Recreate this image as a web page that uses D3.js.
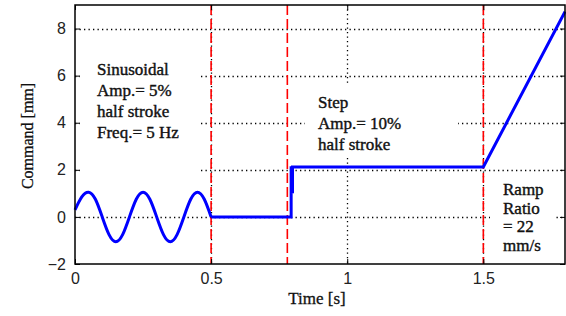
<!DOCTYPE html>
<html><head><meta charset="utf-8">
<script src="https://cdn.jsdelivr.net/npm/d3@7/dist/d3.min.js"></script>
<style>body{margin:0;background:#fff}svg{display:block}</style>
</head><body>
<svg id="c" width="566" height="316"></svg>
<script>
// ---- data ----
const xTicks = [0, 0.5, 1, 1.5];
const yTicks = [-2, 0, 2, 4, 6, 8];
const sineTime = [0, 0.025, 0.05, 0.075, 0.1, 0.125, 0.15, 0.175, 0.2, 0.225, 0.25, 0.275, 0.3, 0.325, 0.35, 0.375, 0.4, 0.425, 0.45, 0.475, 0.5];
const sineCmd  = [0.3, 0.85, 1.05, 0.75, 0, -0.75, -1.05, -0.75, 0, 0.75, 1.05, 0.75, 0, -0.75, -1.05, -0.75, 0, 0.75, 1.05, 0.75, 0];
const stepTime = [0.5, 0.794, 0.794, 0.799, 0.799, 1.5, 1.8];
const stepCmd  = [0, 0, 2.15, 1.0, 2.12, 2.12, 8.72];
const phaseLines = [0.5, 0.78, 1.5];
const xLabel = "Time [s]";
const yLabel = "Command [mm]";
const notes = [
  ["Sinusoidal", "Amp.= 5%", "half stroke", "Freq.= 5 Hz"],
  ["Step", "Amp.= 10%", "half stroke"],
  ["Ramp", "Ratio", "= 22", "mm/s"]
];

// ---- layout ----
const svg = d3.select("#c");
const L = 75, R = 565, T = 5, B = 264;
const x = d3.scaleLinear().domain([0, 1.8]).range([L, R]);
const y = d3.scaleLinear().domain([-2, 9]).range([B, T]);

// grid (dotted)
const grid = svg.append("g").attr("stroke", "#000").attr("stroke-width", 1.3).attr("stroke-dasharray", "1.3,3.2");
grid.selectAll(".gx").data(xTicks.filter(d => d > 0)).enter().append("line")
  .attr("x1", d => Math.round(x(d)) + 0.5).attr("x2", d => Math.round(x(d)) + 0.5).attr("y1", T).attr("y2", B);
grid.selectAll(".gy").data(yTicks.filter(d => d > -2)).enter().append("line")
  .attr("x1", L).attr("x2", R).attr("y1", d => Math.round(y(d)) + 0.5).attr("y2", d => Math.round(y(d)) + 0.5);

// white text backgrounds
const boxes = [[80, 55, 120, 125], [305, 85, 153, 70], [490, 176, 65, 86]];
svg.append("g").selectAll("rect").data(boxes).enter().append("rect")
  .attr("x", d => d[0]).attr("y", d => d[1]).attr("width", d => d[2]).attr("height", d => d[3])
  .attr("fill", "#fff");

// red dashed phase lines
svg.append("g").selectAll("line").data(phaseLines).enter().append("line")
  .attr("x1", d => x(d)).attr("x2", d => x(d)).attr("y1", T).attr("y2", B)
  .attr("stroke", "#ff0000").attr("stroke-width", 1.6).attr("stroke-dasharray", "10,4");

// curves
const sinePts = sineTime.map((t, i) => [t, sineCmd[i]]);
const stepPts = stepTime.map((t, i) => [t, stepCmd[i]]);
svg.append("path").datum(sinePts)
  .attr("d", d3.line().x(d => x(d[0])).y(d => y(d[1])).curve(d3.curveNatural))
  .attr("fill", "none").attr("stroke", "#0000ff").attr("stroke-width", 3);
svg.append("path").datum(stepPts)
  .attr("d", d3.line().x(d => x(d[0])).y(d => y(d[1])))
  .attr("fill", "none").attr("stroke", "#0000ff").attr("stroke-width", 3);

// axes
const fontSans = "'Liberation Sans', Arial, sans-serif";
const fontSerif = "'Liberation Serif', 'Times New Roman', serif";
const axB = d3.axisBottom(x).tickValues(xTicks).tickFormat(d3.format("")).tickSizeInner(-5).tickSizeOuter(0).tickPadding(9);
const axL = d3.axisLeft(y).tickValues(yTicks).tickFormat(d3.format("")).tickSizeInner(-5).tickSizeOuter(0).tickPadding(9);
const axT = d3.axisTop(x).tickValues(xTicks).tickFormat("").tickSizeInner(-5).tickSizeOuter(0);
const axR = d3.axisRight(y).tickValues(yTicks).tickFormat("").tickSizeInner(-5).tickSizeOuter(0);
function style(g) {
  g.select(".domain").remove();
  g.selectAll("line").attr("stroke", "#000");
  g.selectAll("text").attr("font-family", fontSans).attr("font-size", 16).attr("fill", "#222");
}
svg.append("g").attr("transform", `translate(0,${B})`).call(axB).call(style);
svg.append("g").attr("transform", `translate(${L},0)`).call(axL).call(style);
svg.append("g").attr("transform", `translate(0,${T})`).call(axT).call(style);
svg.append("g").attr("transform", `translate(${R},0)`).call(axR).call(style);

// frame
svg.append("rect").attr("x", L).attr("y", T).attr("width", R - L).attr("height", B - T)
  .attr("fill", "none").attr("stroke", "#000").attr("stroke-width", 1.5);

// axis labels
svg.append("text").attr("x", 317).attr("y", 304).attr("text-anchor", "middle")
  .attr("font-family", fontSerif).attr("font-size", 17).attr("fill", "#111")
  .attr("stroke", "#111").attr("stroke-width", 0.3).text(xLabel);
svg.append("text").attr("transform", "translate(33,136) rotate(-90)").attr("text-anchor", "middle")
  .attr("font-family", fontSerif).attr("font-size", 16).attr("fill", "#111")
  .attr("stroke", "#111").attr("stroke-width", 0.3).text(yLabel);

// annotations
const notePos = [[97, 75, 21], [318, 108, 21], [503, 195, 18.5]];
notes.forEach((lines, k) => {
  const [nx, ny, dy] = notePos[k];
  const t = svg.append("text").attr("font-family", fontSerif).attr("font-size", 17).attr("fill", "#111")
    .attr("stroke", "#111").attr("stroke-width", 0.4);
  lines.forEach((s, i) => t.append("tspan").attr("x", nx).attr("y", ny + i * dy).text(s));
});
</script>
</body></html>
